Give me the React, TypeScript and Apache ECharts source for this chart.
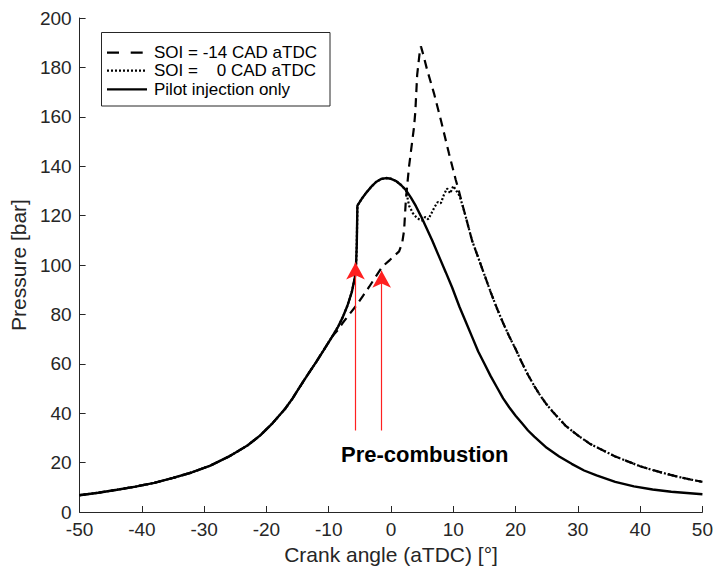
import React, { useEffect, useRef } from "react";
import * as echarts from "echarts";

// Crank angle [°aTDC], pressure [bar]
// Common compression part (all three curves overlap here)
const compression: [number, number][] = [
  [-50, 6.8], [-47, 7.8], [-44, 9], [-41, 10.3], [-38, 11.8], [-35, 13.8], [-32, 16],
  [-29, 18.8], [-26, 22.5], [-23, 27], [-21, 31], [-19, 36], [-17, 41.8], [-15.8, 46],
  [-15, 49.2], [-14, 53.2], [-12, 60.8], [-10.4, 67.2], [-9.4, 71.2],
];
// Pilot injection only
const pilotRest: [number, number][] = [
  [-8.5, 75], [-7.8, 78.6], [-7, 83.5], [-6.3, 89], [-5.8, 95], [-5.6, 101], [-5.5, 108],
  [-5.45, 116], [-5.4, 124], [-4.7, 126.8], [-4, 129.2], [-3.2, 131.6], [-2.4, 133.6],
  [-1.6, 134.8], [-0.8, 135.2], [0, 134.9], [0.8, 134], [1.6, 132.4], [2.4, 130.3],
  [3.2, 127.3], [4, 123.8], [4.8, 119.8], [5.6, 115.5], [6.6, 110], [7.7, 103.5],
  [8.8, 97], [9.8, 91], [11, 83], [12, 77], [13, 71], [14, 65], [15, 60], [16, 55],
  [17, 50.5], [18, 46], [19, 42.3], [20, 39], [21, 36], [22, 33], [23, 30.5], [25, 26],
  [27, 22.5], [29, 19.5], [31, 16.8], [33, 14.8], [36, 12.2], [39, 10.4], [42, 9.1],
  [45, 8.2], [48, 7.6], [50, 7.2],
];
// SOI = -14 CAD aTDC (part that differs)
const soiM14Rest: [number, number][] = [
  [-8.5, 73.8], [-7.8, 76.4], [-6.7, 80], [-5.6, 83.5], [-4.5, 87.5], [-3.5, 91.2],
  [-2.4, 95.5], [-1.4, 99.3], [-0.2, 102], [1.3, 105.5], [1.8, 109], [2.1, 114],
  [2.4, 127], [2.9, 140], [3.2, 146], [3.7, 156], [3.9, 162], [4.2, 177], [4.6, 186],
  [4.8, 188.5], [5.2, 185], [5.8, 179], [6.9, 169.5], [8, 158.7], [9.3, 145.2],
  [10.4, 134.4], [10.9, 130], [11.4, 125],
];
// SOI = 0 CAD aTDC (part that differs from pilot-only)
const soi0Rest: [number, number][] = [
  [2.9, 124], [3.5, 121], [4, 119.5], [4.5, 118.5], [5, 118], [5.5, 119.5], [6, 118.5],
  [6.5, 121], [7, 123.5], [7.5, 125.5], [8, 125], [8.5, 128.5], [9, 131], [9.5, 129],
  [10, 132], [10.5, 130], [11, 128], [11.5, 124],
];
// Common expansion tail of both SOI curves
const expansionTail: [number, number][] = [
  [12, 119.5], [13, 110], [14, 103], [15, 96], [16, 89], [17, 82.5], [18, 76.5], [19, 71],
  [20, 66], [21, 60.5], [22, 55.5], [23, 51], [24, 47], [25, 43.5], [26, 40.5], [28, 35],
  [30, 31], [32, 27.5], [34, 25], [36, 22.5], [38, 20.5], [40, 18.5], [42, 17], [44, 15.6],
  [46, 14.3], [48, 13.2], [50, 12.2],
];

const seriesNames = ["SOI = -14 CAD aTDC", "SOI =    0 CAD aTDC", "Pilot injection only"];
const arrowX = [-5.7, -1.5];
const arrowFrom = [33, 33];
const arrowTo = [101, 97.7];
const annotation = "Pre-combustion";

const pilotUntil = (x: number) => pilotRest.filter((p) => p[0] <= x);

export default function App() {
  const ref = useRef<HTMLDivElement>(null);
  useEffect(() => {
    if (!ref.current) return;
    const chart = echarts.init(ref.current, undefined, { renderer: "svg" });
    const font = "'Liberation Sans', Arial, Helvetica, sans-serif";
    const axisColor = "#262626";

    const pilotData = [...compression, ...pilotRest];
    const m14Data = [...compression, ...soiM14Rest, ...expansionTail];
    const soi0Data = [...compression, ...pilotUntil(2.4), ...soi0Rest, ...expansionTail];

    const dashes = [[12, 11.7], [2, 2], null];
    const rowY = [52.7, 70.7, 89.3];
    const legendItems: any[] = [
      {
        type: "rect",
        shape: { x: 101.5, y: 32.5, width: 228.5, height: 73.5 },
        style: { fill: "#fff", stroke: axisColor, lineWidth: 1 },
        z: 10,
      },
    ];
    seriesNames.forEach((name, i) => {
      legendItems.push({
        type: "line",
        shape: { x1: 107, y1: rowY[i], x2: 147, y2: rowY[i] },
        style: { stroke: "#000", lineWidth: 2.2, lineDash: dashes[i] || undefined },
        z: 11,
      });
      legendItems.push({
        type: "text",
        x: 154,
        y: rowY[i],
        style: {
          text: name,
          fontSize: 17,
          fill: "#000",
          fontFamily: font,
          textVerticalAlign: "middle",
          verticalAlign: "middle",
        },
        z: 11,
      });
    });

    chart.setOption({
      animation: false,
      textStyle: { fontFamily: font },
      grid: { left: 79, right: 12, top: 18, bottom: 61, containLabel: false },
      xAxis: {
        type: "value",
        min: -50,
        max: 50,
        interval: 10,
        name: "Crank angle (aTDC) [°]",
        nameLocation: "middle",
        nameGap: 31,
        nameTextStyle: { fontSize: 21, color: axisColor, fontFamily: font },
        axisLine: { show: true, onZero: false, lineStyle: { color: axisColor, width: 1 } },
        axisTick: { show: true, inside: true, length: 6, lineStyle: { color: axisColor } },
        axisLabel: { fontSize: 19, color: axisColor, margin: 8, fontFamily: font },
        splitLine: { show: false },
      },
      yAxis: {
        type: "value",
        min: 0,
        max: 200,
        interval: 20,
        name: "Pressure [bar]",
        nameLocation: "middle",
        nameGap: 46,
        nameTextStyle: { fontSize: 21, color: axisColor, fontFamily: font },
        axisLine: { show: true, onZero: false, lineStyle: { color: axisColor, width: 1 } },
        axisTick: { show: true, inside: true, length: 6, lineStyle: { color: axisColor } },
        axisLabel: { fontSize: 19, color: axisColor, margin: 8, fontFamily: font },
        splitLine: { show: false },
      },
      series: [
        {
          name: seriesNames[0],
          type: "line",
          data: m14Data,
          symbol: "none",
          lineStyle: { color: "#000", width: 2.2, type: [9, 6] },
          itemStyle: { color: "#000" },
          z: 3,
        },
        {
          name: seriesNames[1],
          type: "line",
          data: soi0Data,
          symbol: "none",
          lineStyle: { color: "#000", width: 2.2, type: [2, 2] },
          itemStyle: { color: "#000" },
          z: 2,
        },
        {
          name: seriesNames[2],
          type: "line",
          data: pilotData,
          symbol: "none",
          lineStyle: { color: "#000", width: 2.4, type: "solid" },
          itemStyle: { color: "#000" },
          z: 4,
          markLine: {
            silent: true,
            symbol: ["none", "arrow"],
            symbolSize: [14, 17],
            label: { show: false },
            lineStyle: { color: "#ff2020", width: 1.2, type: "solid" },
            data: arrowX.map((x, i) => [
              { coord: [x, arrowFrom[i]] },
              { coord: [x, arrowTo[i]] },
            ]),
          },
        },
      ],
      graphic: [
        ...legendItems,
        {
          type: "text",
          left: 427 - 86,
          top: 443,
          style: {
            text: annotation,
            fontSize: 22,
            fontWeight: "bold",
            fill: "#000",
            fontFamily: font,
          },
        },
      ],
    });
    return () => chart.dispose();
  }, []);
  return (
    <div
      ref={ref}
      style={{ position: "fixed", left: 0, top: 0, width: 716, height: 573, background: "#fff" }}
    />
  );
}
